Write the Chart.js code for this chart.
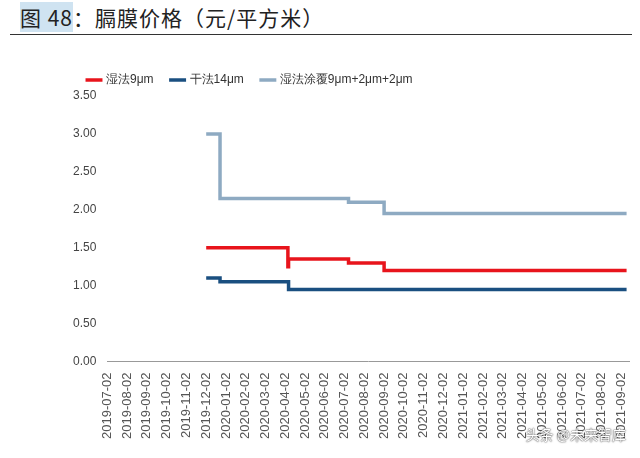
<!DOCTYPE html>
<html>
<head>
<meta charset="utf-8">
<script src="https://cdn.jsdelivr.net/npm/chart.js@4/dist/chart.umd.min.js"></script>
<style>
  body { margin: 0; width: 640px; height: 458px; background: #fff; font-family: "Noto Sans CJK SC", "Noto Sans", sans-serif; position: relative; overflow: hidden; }
  #title { position: absolute; left: 20px; top: 2px; font-size: 21px; color: #222; letter-spacing: 1px; }
  #title b { background: #cfe3f1; font-weight: normal; }
  #rule { position: absolute; left: 10px; right: 8px; top: 34px; border-top: 1px solid #333; }
  #wrap { position: absolute; left: 0; top: 56px; width: 640px; height: 402px; }
  #mark { position: absolute; right: 14px; bottom: 14px; font-size: 14px; color: #fff; text-shadow: 0 0 2px #555, 0 0 1px #333; }
</style>
</head>
<body>
<div id="title"><b>图 48</b>：膈膜价格（元/平方米）</div>
<div id="rule"></div>
<div id="wrap"><canvas id="c"></canvas></div>
<div id="mark">头条 @未来智库</div>
<script>
// 月份刻度
const months = ['2019-07-02','2019-08-02','2019-09-02','2019-10-02','2019-11-02','2019-12-02',
  '2020-01-02','2020-02-02','2020-03-02','2020-04-02','2020-05-02','2020-06-02','2020-07-02',
  '2020-08-02','2020-09-02','2020-10-02','2020-11-02','2020-12-02','2021-01-02','2021-02-02',
  '2021-03-02','2021-04-02','2021-05-02','2021-06-02','2021-07-02','2021-08-02','2021-09-02'];

// 价格变动日期与数值
const wetDates = ['2019-12-02','2020-04-06','2020-04-07','2020-07-08','2020-09-02','2021-09-10'];
const wetVals  = [1.50, 1.25, 1.35, 1.30, 1.20, 1.20];
const dryDates = ['2019-12-02','2019-12-23','2020-04-07','2021-09-10'];
const dryVals  = [1.10, 1.05, 0.95, 0.95];
const coatDates = ['2019-12-02','2019-12-23','2020-07-08','2020-09-02','2021-09-10'];
const coatVals  = [3.00, 2.15, 2.10, 1.95, 1.95];

// 日期 -> 月序号
function monthIndex(d) {
    const [y, m, day] = d.split('-').map(Number);
    return (y - 2019) * 12 + (m - 7) + (day - 2) / 30;
}
function toPoints(dates, vals) {
    return dates.map((d, i) => ({ x: monthIndex(d), y: vals[i] }));
}

function series(label, dates, vals, color) {
    return {
        label: label, data: toPoints(dates, vals), stepped: true,
        borderColor: color, backgroundColor: color, borderWidth: 3.5, pointRadius: 0
    };
}

new Chart(document.getElementById('c'), {
    type: 'line',
    data: {
        datasets: [
            series('湿法9μm', wetDates, wetVals, '#e8141c'),
            series('干法14μm', dryDates, dryVals, '#1a4f80'),
            series('湿法涂覆9μm+2μm+2μm', coatDates, coatVals, '#8eaac2')
        ]
    },
    options: {
        responsive: true, maintainAspectRatio: false, animation: false,
        layout: { padding: { left: 70, right: 6, top: 0, bottom: 16 } },
        plugins: {
            legend: {
                position: 'top', align: 'start',
                labels: { usePointStyle: true, pointStyle: 'line', boxWidth: 40, font: { size: 12 }, color: '#333', padding: 18 }
            },
            tooltip: { enabled: false }
        },
        scales: {
            x: {
                type: 'linear', min: 0, max: 26.4,
                afterBuildTicks: axis => { axis.ticks = months.map((m, i) => ({ value: i })); },
                ticks: { autoSkip: false, maxRotation: 90, minRotation: 90, font: { size: 13 }, color: '#555',
                    callback: v => months[v] },
                grid: { display: false }, border: { color: '#999' }
            },
            y: {
                min: 0, max: 3.5,
                ticks: { stepSize: 0.5, font: { size: 12 }, color: '#444', callback: v => v.toFixed(2) },
                grid: { display: false }, border: { display: false }
            }
        }
    }
});
</script>
</body>
</html>
